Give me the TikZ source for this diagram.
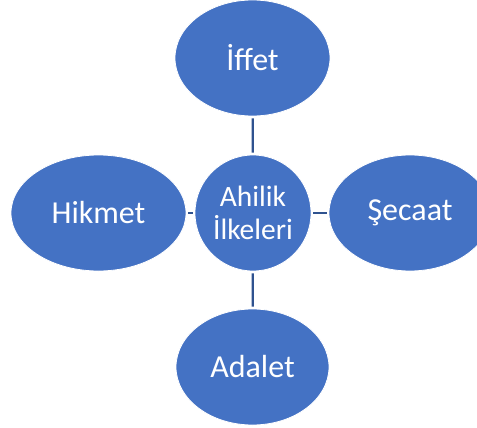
\documentclass[tikz,border=0pt]{standalone}
\usepackage{fontspec}
\setmainfont{Carlito}
\usetikzlibrary{shapes.geometric}
\definecolor{ofblue}{HTML}{4472C4}
\definecolor{lnblue}{HTML}{2F528F}
\begin{document}
\begin{tikzpicture}[x=1pt,y=-1pt,
    bubble/.style={ellipse,fill=ofblue,draw=white,line width=0.8pt,text=white,
      inner sep=0pt,minimum height=116pt,font=\fontsize{32}{34}\selectfont},
    link/.style={draw=lnblue,line width=2.2pt,shorten <=2pt,shorten >=2pt}]
        \useasboundingbox (0,0) rectangle (477,428);
        \clip (0,0) rectangle (477,428);

        \node (ahilik) at (253, 213) [bubble,circle,minimum size=116pt,
          align=center,font=\fontsize{29.5}{33}\selectfont] {Ahilik\\İlkeleri};
        \node (iffet) at (252.5, 58) [bubble,minimum width=155pt] {İffet};
        \node (hikmet) at (98.5, 213) [bubble,minimum width=175pt] {Hikmet};
        \node (secaat) at (410, 213) [bubble,minimum width=162pt] {Şecaat};
        \node (adalet) at (252.5, 367) [bubble,minimum width=153pt] {Adalet};

        \draw[link] (iffet) -- (ahilik);
        \draw[link] (hikmet) -- (ahilik);
        \draw[link] (ahilik) -- (secaat);
        \draw[link] (ahilik) -- (adalet);
      \end{tikzpicture}
\end{document}
